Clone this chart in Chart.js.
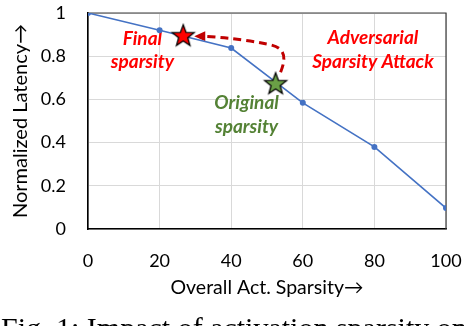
<!DOCTYPE html>
<html><head><meta charset="utf-8">
<script src="https://cdn.jsdelivr.net/npm/chart.js@4/dist/chart.umd.min.js"></script>
<style>
html,body{margin:0;padding:0;background:#fff;overflow:hidden}
#wrap{position:relative;width:464px;height:326px;overflow:hidden}
#c{position:absolute;left:0;top:0}
#cap{position:absolute;left:1px;top:311px;font-family:"Liberation Serif";font-size:30px;line-height:34px;white-space:nowrap;color:#000}
</style></head><body>
<div id="wrap"><canvas id="c" width="464" height="326"></canvas><div id="cap">Fig. 1: Impact of activation sparsity on</div></div>
<script>
// ---- data ----
const sparsity = [0, 20, 40, 60, 80, 100];
const latency = [1, 0.92, 0.838, 0.584, 0.38, 0.097];
const finalSparsity = [26.6];
const finalLatency = [0.897];
const originalSparsity = [52.4];
const originalLatency = [0.675];
const xTicks = [0, 20, 40, 60, 80, 100];
const yTicks = [0, 0.2, 0.4, 0.6, 0.8, 1];
const xTitle = 'Overall Act. Sparsity\u2192';
const yTitle = 'Normalized Latency\u2192';
const labelFinal = ['Final', 'sparsity'];
const labelOriginal = ['Original', 'sparsity'];
const labelAttack = ['Adversarial', 'Sparsity Attack'];

function starImage(fill) {
  const s = 28, c = document.createElement('canvas');
  c.width = s; c.height = s;
  const g = c.getContext('2d');
  const R = 11.5, r = 4.8, cx = s / 2, cy = s / 2 + 1;
  g.beginPath();
  for (let i = 0; i < 10; i++) {
    const rad = i % 2 === 0 ? R : r;
    const a = -Math.PI / 2 + i * Math.PI / 5;
    const px = cx + rad * Math.cos(a), py = cy + rad * Math.sin(a);
    i === 0 ? g.moveTo(px, py) : g.lineTo(px, py);
  }
  g.closePath();
  g.fillStyle = fill; g.fill();
  g.lineWidth = 1.3; g.strokeStyle = '#000'; g.lineJoin = 'miter'; g.stroke();
  return c;
}
const redStar = starImage('#ff0000');
const greenStar = starImage('#6aa046');

const xy = (xs, ys) => xs.map((v, i) => ({ x: v, y: ys[i] }));

const overlay = {
  id: 'overlay',
  beforeDatasetsDraw(chart) {
    const { ctx, chartArea: a, scales: { x, y } } = chart;
    ctx.save();
    ctx.strokeStyle = '#3a3a3a'; ctx.lineWidth = 1.2;
    ctx.beginPath();
    ctx.moveTo(a.left, a.top); ctx.lineTo(a.right, a.top); ctx.lineTo(a.right, a.bottom);
    ctx.stroke();
    const gx = x.getPixelForValue(originalSparsity[0]), gy = y.getPixelForValue(originalLatency[0]);
    const rx = x.getPixelForValue(finalSparsity[0]), ry = y.getPixelForValue(finalLatency[0]);
    ctx.strokeStyle = '#c00000'; ctx.lineWidth = 3; ctx.setLineDash([8, 5]);
    ctx.beginPath();
    ctx.moveTo(gx + 5, gy - 11);
    ctx.bezierCurveTo(gx + 11, gy - 26, gx + 10, gy - 36, gx - 8, gy - 39);
    ctx.quadraticCurveTo(rx + 55, ry + 3, rx + 20, ry + 1);
    ctx.stroke();
    ctx.setLineDash([]);
    ctx.fillStyle = '#c00000';
    ctx.beginPath();
    ctx.moveTo(rx + 11, ry + 1);
    ctx.lineTo(rx + 22, ry - 4);
    ctx.lineTo(rx + 22, ry + 6);
    ctx.closePath(); ctx.fill();
    ctx.font = 'italic bold 19px Lato';
    ctx.textAlign = 'center'; ctx.textBaseline = 'middle';
    const put = (lines, xv, yvs, col) => {
      ctx.fillStyle = col;
      lines.forEach((t, i) => ctx.fillText(t, x.getPixelForValue(xv), y.getPixelForValue(yvs[i])));
    };
    put(labelFinal, 15.2, [0.882, 0.776], '#ff0000');
    put(labelAttack, 79.6, [0.886, 0.776], '#ff0000');
    put(labelOriginal, 44.3, [0.582, 0.474], '#548235');
    ctx.restore();
  }
};

new Chart(document.getElementById('c'), {
  type: 'line',
  data: {
    datasets: [
      { data: xy(finalSparsity, finalLatency), pointStyle: redStar, showLine: false, pointRadius: 12 },
      { data: xy(originalSparsity, originalLatency), pointStyle: greenStar, showLine: false, pointRadius: 12 },
      { data: xy(sparsity, latency), borderColor: '#4472c4', backgroundColor: '#4472c4', borderWidth: 1.6,
        pointRadius: 3, pointBorderWidth: 0, fill: false, tension: 0 }
    ]
  },
  options: {
    responsive: false, animation: false,
    layout: { padding: { top: 8, right: 18, left: 0, bottom: 0 } },
    plugins: { legend: { display: false }, tooltip: { enabled: false } },
    scales: {
      x: {
        type: 'linear', min: 0, max: 100,
        afterBuildTicks: s => { s.ticks = xTicks.map(v => ({ value: v })); },
        afterFit: s => { s.height = 97; s.paddingLeft = 0; s.paddingRight = 0; },
        grid: { color: '#d9d9d9', lineWidth: 1, drawTicks: false },
        border: { color: '#000', width: 1.6 },
        ticks: { color: '#000', font: { family: 'Lato', size: 18 }, padding: 21, maxRotation: 0 },
        title: { display: true, text: xTitle, color: '#000', font: { family: 'Lato', size: 19.5 }, padding: { top: 0, bottom: 27 } }
      },
      y: {
        min: 0, max: 1,
        afterBuildTicks: s => { s.ticks = yTicks.map(v => ({ value: v })); },
        afterFit: s => { s.width = 88; s.paddingTop = 0; s.paddingBottom = 0; },
        grid: { color: '#d9d9d9', lineWidth: 1, drawTicks: false },
        border: { color: '#000', width: 1.6 },
        ticks: { color: '#000', font: { family: 'Lato', size: 18, lineHeight: 0.8 }, padding: 22, callback: v => String(v) },
        title: { display: true, text: yTitle, color: '#000', font: { family: 'Lato', size: 20 }, padding: { top: 9, bottom: 0 } }
      }
    }
  },
  plugins: [overlay]
});
</script>
</body></html>
